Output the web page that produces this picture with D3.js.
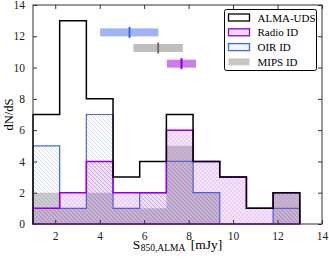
<!DOCTYPE html>
<html>
<head>
<meta charset="utf-8">
<script src="https://cdn.jsdelivr.net/npm/d3@7"></script>
<style>
  body { margin: 0; background: #fff; }
  text { font-family: "Liberation Serif", "DejaVu Serif", serif; }
</style>
</head>
<body>
<svg id="chart" width="329" height="259"></svg>
<script>
// bin edges 1.0 .. 13.0, width 1.2
const binEdges = [1.0, 2.2, 3.4, 4.6, 5.8, 7.0, 8.2, 9.4, 10.6, 11.8, 13.0];
const almaCounts = [7, 13, 8, 3, 4, 7, 4, 3, 1, 2];
const radioCounts = [1, 2, 4, 2, 2, 6, 4, 3, 1, 2];
const oirCounts = [5, 1, 7, 1, 2, 4, 2, 0, 0, 1];
const mipsCounts = [2, 1, 2, 1, 1, 5, 2, 0, 0, 2];

// median with range, drawn as bars at top of plot
const medianNames = ['OIR ID', 'MIPS ID', 'Radio ID'];
const medianLo = [4.02, 5.52, 7.02];
const medianMid = [5.34, 6.63, 7.68];
const medianHi = [6.64, 7.74, 8.33];
const medianY = [12.25, 11.25, 10.25];

const xTicks = [2, 4, 6, 8, 10, 12, 14];
const yTicks = [0, 2, 4, 6, 8, 10, 12, 14];
const legendLabels = ['ALMA-UDS', 'Radio ID', 'OIR ID', 'MIPS ID'];

const svg = d3.select('#chart');
let margins = { 'left': 33, 'top': 5, 'bottom': 35, 'right': 7 };
let chartWidth = svg.attr('width') - margins.left - margins.right;
let chartHeight = svg.attr('height') - margins.top - margins.bottom;

const xScale = d3.scaleLinear().domain([1, 14]).range([0, chartWidth]);
const yScale = d3.scaleLinear().domain([0, 14]).range([chartHeight, 0]);

// hatch patterns
const defs = svg.append('defs');
let oirPat = defs.append('pattern')
  .attr('id', 'hatchOir').attr('patternUnits', 'userSpaceOnUse')
  .attr('width', 4).attr('height', 4);
oirPat.append('path').attr('d', 'M-1,-1 L5,5 M-1,3 L1,5 M3,-1 L5,1')
  .attr('stroke', '#7f9ae8').attr('stroke-width', 0.7).attr('stroke-opacity', 0.5);

let radioPat = defs.append('pattern')
  .attr('id', 'hatchRadio').attr('patternUnits', 'userSpaceOnUse')
  .attr('width', 4).attr('height', 4);
radioPat.append('rect').attr('width', 4).attr('height', 4).attr('fill', 'rgba(148,0,211,0.1)');
radioPat.append('path').attr('d', 'M-1,5 L5,-1 M-1,1 L1,-1 M3,5 L5,3 M-1,-1 L5,5 M-1,3 L1,5 M3,-1 L5,1')
  .attr('stroke', '#9400d3').attr('stroke-width', 0.5).attr('stroke-opacity', 0.2);

const chartArea = svg.append('g').attr('transform', `translate(${margins.left},${margins.top})`);

function stepPoints(counts) {
  let pts = [[binEdges[0], 0]];
  counts.forEach((c, i) => {
    pts.push([binEdges[i], c]);
    pts.push([binEdges[i + 1], c]);
  });
  pts.push([binEdges[binEdges.length - 1], 0]);
  return pts;
}
const stepLine = d3.line().x(d => xScale(d[0])).y(d => yScale(d[1]));

// OIR: hatch + blue edge
chartArea.append('path')
  .attr('d', stepLine(stepPoints(oirCounts)) + 'Z')
  .attr('fill', 'url(#hatchOir)')
  .attr('stroke', '#4169e1').attr('stroke-width', 1.2);

// MIPS: grey fill
chartArea.append('path')
  .attr('d', stepLine(stepPoints(mipsCounts)) + 'Z')
  .attr('fill', 'rgba(128,128,128,0.4)')
  .attr('stroke', 'none');

// Radio: purple hatch fill + edge
chartArea.append('path')
  .attr('d', stepLine(stepPoints(radioCounts)) + 'Z')
  .attr('fill', 'url(#hatchRadio)')
  .attr('stroke', '#9400d3').attr('stroke-width', 1.5);

// ALMA-UDS: black step
chartArea.append('path')
  .attr('d', stepLine(stepPoints(almaCounts)))
  .attr('fill', 'none')
  .attr('stroke', '#000').attr('stroke-width', 1.5);

// medians with ranges
const barColors = ['rgba(65,105,225,0.5)', 'rgba(128,128,128,0.5)', 'rgba(148,0,211,0.5)'];
const midColors = ['#4169e1', '#707070', '#9400d3'];
medianNames.forEach((n, i) => {
  chartArea.append('rect')
    .attr('x', xScale(medianLo[i]))
    .attr('y', yScale(medianY[i]) - 4)
    .attr('width', xScale(medianHi[i]) - xScale(medianLo[i]))
    .attr('height', 8)
    .attr('fill', barColors[i]);
  chartArea.append('rect')
    .attr('x', xScale(medianMid[i]) - 1)
    .attr('y', yScale(medianY[i]) - 5.5)
    .attr('width', 2)
    .attr('height', 11)
    .attr('fill', midColors[i]);
});

// frame
chartArea.append('rect')
  .attr('width', chartWidth).attr('height', chartHeight)
  .attr('fill', 'none').attr('stroke', '#333').attr('stroke-width', 1);

// axes: ticks inside on all sides
let bottomAxis = d3.axisBottom(xScale).tickValues(xTicks).tickSizeInner(-4).tickSizeOuter(0).tickPadding(8);
let topAxis = d3.axisTop(xScale).tickValues(xTicks).tickSizeInner(-4).tickSizeOuter(0).tickFormat('');
let leftAxis = d3.axisLeft(yScale).tickValues(yTicks).tickSizeInner(-4).tickSizeOuter(0).tickPadding(8);
let rightAxis = d3.axisRight(yScale).tickValues(yTicks).tickSizeInner(-4).tickSizeOuter(0).tickFormat('');

chartArea.append('g').attr('transform', `translate(0,${chartHeight})`).call(bottomAxis);
chartArea.append('g').call(topAxis);
chartArea.append('g').call(leftAxis);
chartArea.append('g').attr('transform', `translate(${chartWidth},0)`).call(rightAxis);
chartArea.selectAll('.domain').remove();
chartArea.selectAll('.tick line').attr('stroke', '#333');
chartArea.selectAll('.tick text')
  .style('font-family', '"Liberation Serif", "DejaVu Serif", serif')
  .style('font-size', '11.5px')
  .attr('fill', '#222');

// axis labels
svg.append('text')
  .attr('transform', `translate(13,${margins.top + chartHeight / 2}) rotate(-90)`)
  .attr('text-anchor', 'middle')
  .style('font-size', '12.5px')
  .text('dN/dS');

// x label built from pieces, placed side by side
let xg = svg.append('g');
let pS = xg.append('text').attr('y', 249).style('font-size', '13.5px').text('S');
let pSub = xg.append('text').attr('y', 251).style('font-size', '9.5px').text('850,ALMA');
let pU = xg.append('text').attr('y', 249).style('font-size', '13.5px').text('[mJy]');
let wS = pS.node().getComputedTextLength();
let wSub = pSub.node().getComputedTextLength();
let wU = pU.node().getComputedTextLength();
let gap = 6;
let total = wS + wSub + gap + wU;
let x0 = margins.left + chartWidth / 2 - total / 2;
pS.attr('x', x0);
pSub.attr('x', x0 + wS + 0.5);
pU.attr('x', x0 + wS + wSub + gap);

// legend
let legend = svg.append('g').attr('transform', 'translate(224.5,9.5)');
legend.append('rect')
  .attr('width', 92).attr('height', 61).attr('rx', 2)
  .attr('fill', '#fff').attr('stroke', '#000').attr('stroke-width', 1);
const swatchFill = ['none', 'url(#hatchRadio)', 'url(#hatchOir)', 'rgba(128,128,128,0.45)'];
const swatchStroke = ['#000', '#9400d3', '#4169e1', 'none'];
legendLabels.forEach((lab, i) => {
  let cy = 8 + i * 14.8;
  legend.append('rect')
    .attr('x', 4).attr('y', cy - 3.5)
    .attr('width', 21).attr('height', 7)
    .attr('fill', swatchFill[i])
    .attr('stroke', swatchStroke[i]).attr('stroke-width', 1.3);
  legend.append('text')
    .attr('x', 33).attr('y', cy + 4)
    .style('font-size', '11px')
    .text(lab);
});
</script>
</body>
</html>
